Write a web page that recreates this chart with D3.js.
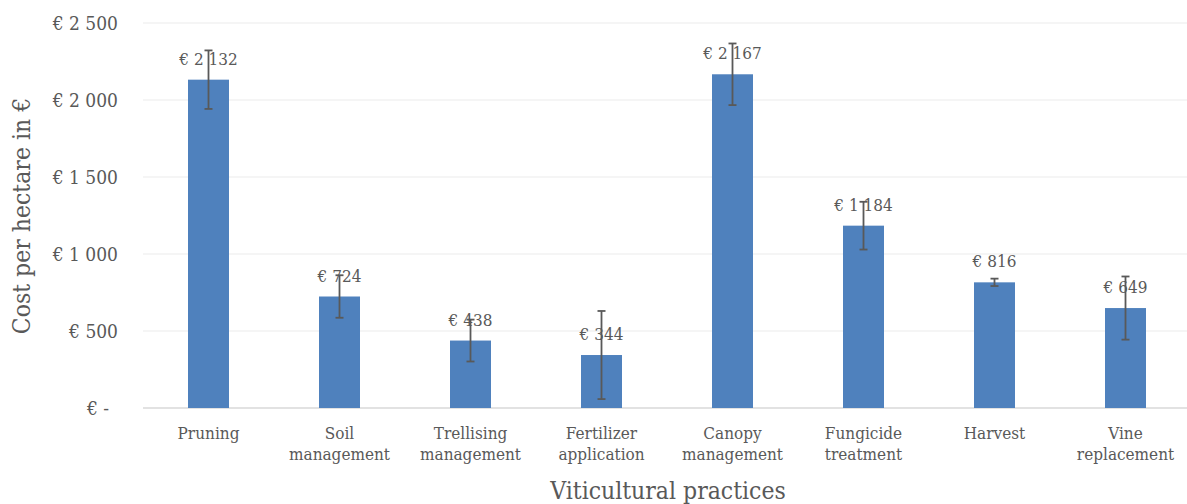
<!DOCTYPE html>
<html><head><meta charset="utf-8">
<script src="https://cdn.jsdelivr.net/npm/d3@7"></script>
<style>body{margin:0;background:#fff}svg{display:block}text{font-family:"DejaVu Serif Condensed","DejaVu Serif",serif;font-stretch:condensed;fill:#595959}</style>
</head><body>
<svg id="c" width="1187" height="504"></svg>
<script>
const categories = [["Pruning"],["Soil","management"],["Trellising","management"],["Fertilizer","application"],["Canopy","management"],["Fungicide","treatment"],["Harvest"],["Vine","replacement"]];
const values = [2132, 724, 438, 344, 2167, 1184, 816, 649];
const errors = [190, 138, 136, 286, 200, 155, 24, 205];
const yTicks = [0, 500, 1000, 1500, 2000, 2500];
const yTitle = "Cost per hectare in €";
const xTitle = "Viticultural practices";

(function () {
const svg = d3.select("#c");
const pLeft = 143, pRight = 1191, pTop = 23, pBottom = 408;
const x = d3.scaleBand().domain(d3.range(values.length)).range([pLeft, pRight]).paddingInner(0.687).paddingOuter(0.3435);
const y = d3.scaleLinear().domain([0, 2500]).range([pBottom, pTop]);
const fmt = v => v === 0 ? "€ -" : "€ " + d3.format(",")(v).replace(/,/g, " ");

// gridlines
svg.append("g").selectAll("line").data(yTicks).join("line")
  .attr("x1", pLeft).attr("x2", 1187).attr("y1", d => y(d)).attr("y2", d => y(d))
  .attr("stroke", d => d === 0 ? "#d9d9d9" : "#ececec").attr("stroke-width", d => d === 0 ? 1.5 : 1.2);

// y axis labels
const yAxis = svg.append("g").attr("transform", `translate(118,0)`)
  .call(d3.axisLeft(y).tickValues(yTicks).tickFormat(fmt).tickSize(0).tickPadding(0));
yAxis.select(".domain").remove();
yAxis.selectAll("text").style("font-size", "19px").attr("fill", "#595959")
  .attr("dx", d => d === 0 ? -9 : 0);

// bars
svg.append("g").selectAll("rect").data(values).join("rect")
  .attr("x", (d, i) => x(i)).attr("width", x.bandwidth())
  .attr("y", d => y(d)).attr("height", d => pBottom - y(d)).attr("fill", "#4f81bd");

// data labels
svg.append("g").selectAll("text").data(values).join("text")
  .attr("x", (d, i) => x(i) + x.bandwidth() / 2).attr("y", d => y(d) - 15)
  .attr("text-anchor", "middle").style("font-size", "17px").text(fmt);

// error bars
const eg = svg.append("g").attr("stroke", "#595959").attr("stroke-width", 1.8);
values.forEach((v, i) => {
  const cx = x(i) + x.bandwidth() / 2;
  eg.append("line").attr("x1", cx).attr("x2", cx).attr("y1", y(v + errors[i])).attr("y2", y(v - errors[i]));
  [v + errors[i], v - errors[i]].forEach(e => eg.append("line").attr("x1", cx - 4).attr("x2", cx + 4).attr("y1", y(e)).attr("y2", y(e)));
});

// x category labels
const xl = svg.append("g").selectAll("text").data(categories).join("text")
  .attr("x", (d, i) => x(i) + x.bandwidth() / 2).attr("y", 439)
  .attr("text-anchor", "middle").style("font-size", "17px");
xl.selectAll("tspan").data(d => d).join("tspan")
  .attr("x", function() { return this.parentNode.getAttribute("x"); })
  .attr("dy", (d, j) => j === 0 ? 0 : 21).text(d => d);

// axis titles
svg.append("text").attr("transform", "translate(30,216) rotate(-90)").attr("text-anchor", "middle")
  .style("font-size", "24.5px").text(yTitle);
svg.append("text").attr("x", 668).attr("y", 499).attr("text-anchor", "middle")
  .style("font-size", "24.5px").text(xTitle);
})();
</script>
</body></html>
